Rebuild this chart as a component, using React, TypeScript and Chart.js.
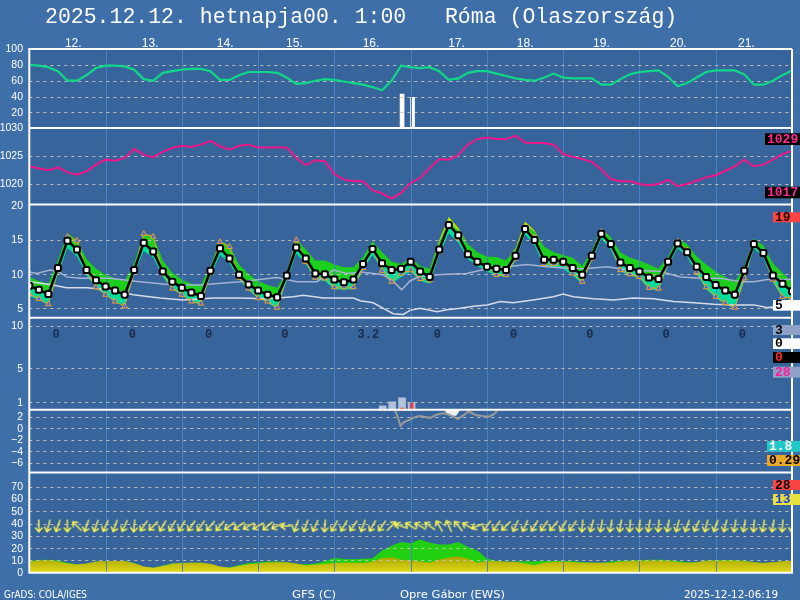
import React, { useEffect, useRef } from "react";
import { Chart, registerables } from "chart.js";

Chart.register(...registerables);

// ---------------- text ----------------
const TITLE = "2025.12.12. hetnapja00. 1:00   Róma (Olaszország)";
const DAY_LABELS = ["12.", "13.", "14.", "15.", "16.", "17.", "18.", "19.", "20.", "21."];
const DAY_LABEL_HOURS = [11.2, 35.4, 59.0, 80.8, 104.9, 131.8, 153.4, 177.4, 201.6, 223.0];
const DAY_LINE_HOURS = [24, 48, 72, 96, 120, 144, 168, 192, 216];
const NOON_HOURS = [12, 36, 60, 84, 108, 132, 156, 180, 204, 228];
const DAILY_PRECIP = [0, 0, 0, 0, 3.2, 0, 0, 0, 0, 0];
const FOOTER = ["GrADS: COLA/IGES", "GFS (C)", "Opre Gábor (EWS)", "2025-12-12-06:19"];

// tick labels per panel
const HUM_TICKS = [100, 80, 60, 40, 20];
const PRES_TICKS = [1030, 1025, 1020];
const TEMP_TICKS = [20, 15, 10, 5];
const PREC_TICKS = [10, 5, 1];
const P5_TICKS = [2, 0, -2, -4, -6];
const WIND_TICKS = [70, 60, 50, 40, 30, 20, 10, 0];

// side summary values
const PRES_EXTREMES = ["1029", "1017"];
const TEMP_EXTREMES = ["19", "5"];
const PREC_SUMMARY = ["3", "0", "0", "28"];
const P5_SUMMARY = ["1.8", "0.29"];
const WIND_SUMMARY = ["28", "13"];

// ---------------- series (3-hourly) ----------------
const HOURS = [0, 3, 6, 9, 12, 15, 18, 21, 24, 27, 30, 33, 36, 39, 42, 45, 48, 51, 54, 57, 60, 63, 66, 69, 72, 75, 78, 81, 84, 87, 90, 93, 96, 99, 102, 105, 108, 111, 114, 117, 120, 123, 126, 129, 132, 135, 138, 141, 144, 147, 150, 153, 156, 159, 162, 165, 168, 171, 174, 177, 180, 183, 186, 189, 192, 195, 198, 201, 204, 207, 210, 213, 216, 219, 222, 225, 228, 231, 234, 237, 240];

const HUMIDITY = [80, 79, 77, 72, 60, 60, 67, 76, 79, 79, 78, 74, 62, 60, 70, 72, 74, 75, 75, 72, 61, 61, 67, 71, 71, 71, 70, 64, 56, 57, 60, 62, 61, 59, 57, 55, 52, 48, 60, 79, 77, 76, 77, 72, 61, 63, 70, 72, 72, 69, 66, 63, 61, 60, 64, 69, 64, 63, 63, 63, 55, 55, 62, 68, 71, 72, 73, 65, 53, 57, 64, 71, 73, 73, 73, 68, 55, 55, 60, 67, 73];

const PRESSURE = [1023.1, 1022.7, 1022.4, 1022.9, 1022.0, 1021.6, 1022.2, 1023.4, 1024.3, 1024.1, 1024.6, 1026.2, 1025.2, 1024.7, 1025.7, 1026.4, 1026.8, 1026.6, 1027.0, 1027.7, 1026.7, 1026.1, 1026.8, 1027.0, 1026.5, 1026.5, 1026.5, 1026.5, 1024.6, 1023.3, 1024.2, 1024.0, 1021.7, 1020.7, 1020.4, 1020.4, 1018.8, 1018.2, 1017.3, 1018.3, 1020.1, 1021.0, 1022.8, 1024.4, 1024.3, 1025.1, 1027.0, 1028.0, 1028.3, 1028.0, 1028.0, 1028.6, 1027.4, 1027.3, 1027.3, 1027.0, 1025.3, 1024.8, 1024.4, 1023.9, 1022.5, 1020.8, 1020.4, 1020.4, 1019.9, 1019.7, 1019.9, 1020.7, 1019.5, 1019.9, 1020.5, 1021.1, 1021.5, 1022.3, 1023.1, 1024.3, 1023.1, 1023.4, 1024.3, 1025.3, 1025.9];

const TEMP_MAIN = [8.3, 7.7, 7.1, 10.9, 14.9, 13.6, 10.6, 9.1, 8.2, 7.6, 7.0, 10.6, 14.6, 13.3, 10.4, 8.9, 8.0, 7.3, 6.8, 10.5, 13.8, 12.3, 9.9, 8.5, 7.6, 7.0, 6.6, 9.8, 13.9, 12.3, 10.1, 10.0, 9.2, 8.8, 9.2, 11.5, 13.7, 11.6, 10.6, 10.8, 11.8, 10.4, 9.6, 13.6, 17.2, 15.7, 12.9, 11.8, 11.1, 10.8, 10.6, 12.7, 16.6, 15.0, 12.1, 12.1, 11.8, 10.9, 9.9, 12.7, 15.9, 14.4, 11.7, 10.9, 10.4, 9.5, 9.3, 11.8, 14.5, 13.2, 11.1, 9.6, 8.4, 7.6, 7.0, 10.5, 14.4, 13.1, 9.8, 8.6, 7.5];

const TEMP_SECOND = [7.1, 6.4, 5.6, 10.6, 15.5, 14.9, 10.4, 8.1, 7.0, 6.0, 5.3, 10.3, 15.9, 15.5, 10.1, 7.9, 7.0, 6.0, 5.7, 10.2, 14.7, 14.0, 9.5, 7.9, 6.5, 6.0, 5.1, 9.6, 15.0, 11.8, 9.5, 9.4, 8.1, 8.1, 8.1, 10.9, 13.7, 10.5, 8.9, 10.1, 10.6, 9.3, 9.1, 13.3, 17.2, 15.3, 12.8, 11.7, 11.0, 9.9, 9.9, 12.3, 16.8, 15.4, 11.5, 11.5, 11.5, 10.1, 8.9, 12.3, 16.2, 14.3, 10.6, 10.0, 9.6, 8.0, 7.9, 11.6, 14.8, 13.5, 10.3, 8.1, 6.7, 5.8, 5.1, 9.4, 14.5, 13.0, 9.2, 6.7, 6.5];

const TEMP_UPPER = [9.6, 9.0, 8.6, 12.0, 16.0, 15.0, 12.2, 10.8, 9.9, 9.4, 9.0, 11.6, 16.0, 15.6, 12.0, 10.2, 9.2, 8.6, 8.4, 11.2, 14.9, 14.2, 11.4, 10.0, 9.0, 8.4, 8.0, 10.4, 15.1, 13.6, 12.0, 12.0, 11.4, 11.0, 11.0, 12.5, 14.8, 13.2, 11.8, 11.5, 12.4, 11.2, 10.8, 14.6, 17.6, 16.4, 14.4, 13.2, 12.6, 12.5, 12.0, 13.6, 17.0, 16.2, 14.0, 13.2, 12.8, 12.4, 11.2, 13.4, 16.4, 15.4, 13.2, 12.4, 12.0, 11.4, 10.8, 12.6, 15.2, 14.4, 12.6, 11.4, 10.4, 9.6, 8.8, 11.2, 15.2, 14.2, 11.6, 10.2, 8.8];

const TEMP_TOP = [9.6, 9.0, 8.6, 12.0, 16.0, 15.0, 12.2, 10.8, 9.9, 9.4, 9.0, 11.6, 16.0, 15.6, 12.0, 10.2, 9.2, 8.6, 8.4, 11.2, 14.9, 14.2, 11.4, 10.0, 9.0, 8.4, 8.0, 10.4, 15.1, 13.6, 12.0, 12.0, 11.4, 11.0, 11.0, 12.5, 14.8, 13.2, 11.8, 11.5, 12.4, 11.2, 10.8, 15.0, 18.4, 16.8, 14.4, 13.2, 12.6, 12.5, 12.0, 13.8, 17.7, 16.4, 14.0, 13.2, 12.8, 12.4, 11.2, 13.4, 16.6, 15.4, 13.2, 12.4, 12.0, 11.4, 10.8, 12.6, 15.2, 14.4, 12.6, 11.4, 10.4, 9.6, 8.8, 11.2, 15.2, 14.2, 11.6, 10.2, 8.8];

const TEMP_LOWER = [6.8, 6.2, 5.5, 10.0, 13.8, 12.6, 9.8, 8.0, 7.0, 6.0, 5.4, 10.0, 13.4, 12.4, 9.6, 7.8, 7.0, 6.0, 5.5, 9.8, 12.8, 11.6, 9.2, 7.6, 6.5, 5.8, 4.9, 9.0, 13.0, 11.5, 9.2, 9.0, 7.8, 7.7, 7.8, 10.6, 12.8, 10.6, 8.6, 9.6, 10.4, 9.0, 8.6, 12.8, 16.0, 14.6, 12.2, 11.2, 10.4, 9.8, 9.6, 12.0, 15.8, 14.2, 11.2, 11.0, 10.8, 9.8, 8.6, 12.0, 15.2, 13.6, 10.4, 9.8, 9.4, 7.8, 7.6, 11.2, 13.8, 12.6, 10.0, 7.8, 6.5, 5.6, 5.0, 9.0, 13.8, 12.4, 8.8, 6.6, 6.3];

const WIND_GUST = [9.7, 10.3, 10.6, 9.9, 8.2, 6.8, 7.2, 9.2, 9.3, 9.5, 9.6, 7.8, 4.6, 3.9, 5.9, 7.5, 8.0, 8.1, 8.1, 6.9, 4.8, 4.2, 6.3, 7.8, 8.5, 9.1, 9.2, 8.8, 7.2, 6.8, 7.5, 9.4, 12.2, 11.1, 11.0, 11.4, 11.8, 18.0, 22.0, 25.0, 24.0, 27.0, 24.3, 23.0, 23.0, 25.0, 21.0, 18.0, 11.6, 9.5, 9.2, 9.2, 9.3, 9.4, 9.5, 9.6, 9.7, 9.3, 8.8, 8.3, 8.1, 9.2, 9.8, 10.0, 10.3, 10.6, 10.6, 10.3, 9.5, 8.7, 8.5, 9.9, 10.3, 10.3, 10.3, 9.9, 8.8, 7.8, 8.5, 9.3, 9.7];

const WIND_MEAN = [9.2, 9.9, 10.1, 9.1, 7.5, 6.6, 7.4, 9.1, 9.4, 9.6, 9.5, 7.7, 5.0, 4.1, 5.4, 7.3, 7.8, 8.0, 8.1, 7.2, 5.1, 4.0, 5.5, 6.9, 7.5, 8.4, 8.6, 8.6, 7.5, 5.8, 6.6, 7.0, 7.9, 8.1, 8.1, 7.8, 9.0, 12.0, 12.6, 10.5, 10.0, 9.2, 8.2, 10.8, 12.4, 13.2, 11.4, 8.2, 9.6, 9.3, 9.0, 8.7, 7.5, 6.0, 8.1, 8.7, 9.2, 8.6, 8.1, 8.1, 8.1, 8.1, 9.0, 9.5, 9.7, 9.7, 9.7, 9.7, 8.7, 8.2, 8.6, 9.7, 9.7, 9.7, 9.7, 9.3, 8.6, 7.8, 8.5, 9.3, 9.7];

// wind arrows: hours 3..240, direction the air moves toward (degrees from north)
const ARROW_HOURS = [3, 6, 9, 12, 15, 18, 21, 24, 27, 30, 33, 36, 39, 42, 45, 48, 51, 54, 57, 60, 63, 66, 69, 72, 75, 78, 81, 84, 87, 90, 93, 96, 99, 102, 105, 108, 111, 114, 117, 120, 123, 126, 129, 132, 135, 138, 141, 144, 147, 150, 153, 156, 159, 162, 165, 168, 171, 174, 177, 180, 183, 186, 189, 192, 195, 198, 201, 204, 207, 210, 213, 216, 219, 222, 225, 228, 231, 234, 237, 240];
const ARROW_DIRS = [180, 195, 200, 180, 315, 200, 200, 205, 200, 205, 185, 215, 225, 210, 210, 210, 215, 215, 220, 220, 235, 235, 240, 240, 230, 245, 265, 200, 200, 205, 185, 210, 210, 215, 200, 210, 215, 45, 290, 300, 300, 305, 330, 335, 320, 300, 250, 215, 215, 225, 205, 205, 210, 215, 220, 210, 215, 185, 195, 190, 190, 190, 185, 185, 190, 185, 190, 195, 200, 205, 195, 200, 195, 190, 190, 185, 190, 190, 185, 185];

// irregular series
const GRAY_A_HOURS = [0, 2.3, 6.5, 9.1, 11.7, 15.9, 25.4, 34.8, 45.3, 53.7, 66.3, 77.9, 84.2, 90.5, 95.7, 99.9, 104.1, 108.3, 111.4, 114.6, 117.2, 119.8, 122, 125.1, 131.4, 137.7, 144, 150.3, 156.6, 162.9, 168.1, 174.4, 181.8, 188.1, 194.4, 198.6, 204.9, 211.2, 217.5, 223.8, 228, 232.2, 240];
const GRAY_A = [10.3, 10.1, 10.6, 10.4, 9.6, 9.4, 9.4, 8.9, 8.4, 8.4, 8.9, 9.5, 8.9, 8.9, 10.6, 10.1, 10.3, 10.1, 9.9, 8.9, 7.7, 9.0, 9.5, 9.8, 10.0, 10.1, 10.8, 11.1, 11.4, 11.1, 10.9, 10.8, 11.1, 10.6, 10.5, 10.4, 9.6, 9.4, 9.4, 8.9, 8.9, 9.2, 9.2];

const WHITE_B_HOURS = [0, 6.5, 11.7, 18, 25.4, 32.7, 41.1, 48.4, 57.9, 66.3, 74.7, 83.1, 86.2, 92.5, 102, 104.1, 108.2, 111.4, 114.5, 117.7, 119.8, 123, 128.3, 131.4, 135.6, 139.7, 144.1, 148.2, 152.2, 158.5, 164.9, 168, 171.2, 177.5, 183.8, 190.1, 196.4, 202.8, 209.1, 215.4, 221.7, 228, 232.4, 240];
const WHITE_B = [8.9, 8.5, 8.0, 8.0, 7.7, 7.0, 6.5, 6.2, 6.5, 6.5, 6.4, 6.7, 6.9, 6.5, 6.5, 6.1, 5.8, 5.0, 4.2, 4.1, 4.7, 5.0, 4.5, 4.8, 5.0, 5.3, 5.5, 6.0, 5.8, 6.2, 6.7, 7.1, 6.7, 6.4, 6.2, 6.5, 6.4, 6.0, 5.8, 5.6, 5.5, 5.5, 5.1, 5.5];

const P5_HOURS = [115.0, 115.9, 116.8, 117.8, 119.4, 120.4, 122.5, 124.1, 126.2, 128.3, 130.4, 132.0, 133.5, 134.8, 136.2, 138.3, 140.4, 143.0, 144.6, 146.1, 147.2];
const P5_VALUES = [3.2, 2.0, 0.4, 1.0, 1.4, 1.7, 2.1, 2.0, 1.8, 2.4, 2.6, 2.4, 2.0, 1.6, 2.1, 2.9, 2.3, 2.1, 2.0, 2.4, 3.0];
const P5_WHITE_HOURS = [130.6, 131.6, 133.0, 134.4, 135.6];
const P5_WHITE = [3.2, 2.3, 2.1, 2.2, 3.2];

const HUM_BAR_HOURS = [117.3, 120.6];
const HUM_BARS = [43, 39];
const PREC_HOURS = [111.2, 114.2, 117.3, 120.3];
const PREC_TOTAL = [0.55, 1.03, 1.5, 0.95];
const PREC_RED = [0, 0, 0.3, 0.9];

// ---------------- layout (pixels) ----------------
const AREA = { left: 29.3, top: 49, right: 792, bottom: 572.7 };
const EDGES = [128, 204.4, 317.7, 409.7, 472.5, 572.7];
// calibration: value v1 at pixel p1, value v2 at pixel p2
const CAL: Record<string, [number, number, number, number]> = {
  yHum: [100, 49, 0, 128.3],
  yPres: [1030, 128, 1020, 183.5],
  yTemp: [15, 240, 5, 308.3],
  yPrec: [10, 326, 0, 410.6],
  yP5: [2, 416.7, -6, 462.7],
  yWind: [70, 486.7, 0, 572.7],
};
function axisRange(id: string) {
  const [v1, p1, v2, p2] = CAL[id];
  const ppu = (p2 - p1) / (v1 - v2);
  return { min: v2 - (AREA.bottom - p2) / ppu, max: v1 + (p1 - AREA.top) / ppu };
}

const xy = (hs: number[], vs: number[]) => hs.map((h, i) => ({ x: h, y: vs[i] }));

const GRID_SPEC: [string, number[]][] = [
  ["yHum", [80, 60, 40, 20]],
  ["yPres", [1025, 1020]],
  ["yTemp", [15, 10, 5]],
  ["yPrec", [10, 5, 1]],
  ["yP5", [2, 0, -2, -4, -6]],
  ["yWind", [70, 60, 50, 40, 30, 20, 10]],
];
const TICK_SPEC: [string, number[]][] = [
  ["yHum", HUM_TICKS],
  ["yPres", PRES_TICKS],
  ["yTemp", TEMP_TICKS],
  ["yPrec", PREC_TICKS],
  ["yP5", P5_TICKS],
  ["yWind", WIND_TICKS],
];

function makeArrow(): HTMLCanvasElement {
  const c = document.createElement("canvas");
  c.width = 16;
  c.height = 16;
  const g = c.getContext("2d")!;
  g.strokeStyle = "#f8f455";
  g.lineWidth = 1.4;
  g.lineCap = "round";
  g.beginPath();
  g.moveTo(8, 14);
  g.lineTo(8, 2);
  g.moveTo(4.8, 6);
  g.lineTo(8, 2);
  g.lineTo(11.2, 6);
  g.stroke();
  return c;
}

function fitText(ctx: CanvasRenderingContext2D, text: string, x: number, y: number, w: number) {
  const m = ctx.measureText(text).width;
  ctx.save();
  ctx.translate(x, y);
  ctx.scale(w / m, 1);
  ctx.fillText(text, 0, 0);
  ctx.restore();
}

function sideBox(ctx: CanvasRenderingContext2D, x: number, y1: number, y2: number, text: string, bg: string, fg: string) {
  ctx.fillStyle = bg;
  ctx.fillRect(x, y1, 800 - x, y2 - y1);
  ctx.fillStyle = fg;
  ctx.font = 'bold 13px "Liberation Mono"';
  ctx.textAlign = "left";
  ctx.textBaseline = "middle";
  ctx.fillText(text, x + 2, (y1 + y2) / 2 + 0.5);
}

const decor = {
  id: "decor",
  beforeDraw(chart: any) {
    const { ctx, chartArea: a } = chart;
    ctx.save();
    ctx.fillStyle = "#3f6fa9";
    ctx.fillRect(0, 0, 800, 600);
    ctx.fillStyle = "#37649a";
    ctx.fillRect(a.left, a.top, a.right - a.left, a.bottom - a.top);
    ctx.restore();
  },
  beforeDatasetDraw(chart: any, args: any) {
    if (args.index !== 7) return;
    const { ctx, chartArea: a, scales } = chart;
    ctx.save();
    ctx.lineWidth = 1;
    ctx.strokeStyle = "#4b80c2";
    for (const h of DAY_LINE_HOURS) {
      const x = Math.round(scales.x.getPixelForValue(h)) + 0.5;
      ctx.beginPath();
      ctx.moveTo(x, a.top);
      ctx.lineTo(x, a.bottom);
      ctx.stroke();
    }
    ctx.strokeStyle = "rgba(205,200,185,0.9)";
    ctx.setLineDash([3, 4]);
    for (const [id, vals] of GRID_SPEC) {
      for (const v of vals) {
        const y = Math.round(scales[id].getPixelForValue(v)) + 0.5;
        ctx.beginPath();
        ctx.moveTo(a.left, y);
        ctx.lineTo(a.right, y);
        ctx.stroke();
      }
    }
    ctx.restore();
  },
  afterDatasetsDraw(chart: any) {
    const { ctx, chartArea: a, scales } = chart;
    ctx.save();
    // panel frames
    ctx.strokeStyle = "#ffffff";
    ctx.lineWidth = 2;
    ctx.beginPath();
    ctx.moveTo(a.left - 1, a.top);
    ctx.lineTo(a.right, a.top);
    for (const y of EDGES) {
      ctx.moveTo(a.left - 1, y);
      ctx.lineTo(a.right + 1, y);
    }
    ctx.moveTo(a.left, a.top);
    ctx.lineTo(a.left, a.bottom + 1);
    ctx.moveTo(a.right, a.top);
    ctx.lineTo(a.right, a.bottom + 1);
    ctx.stroke();

    // y tick labels
    ctx.fillStyle = "#ffffff";
    ctx.font = '10.5px "Liberation Sans"';
    ctx.textAlign = "right";
    ctx.textBaseline = "middle";
    for (const [id, vals] of TICK_SPEC) {
      for (const v of vals) {
        const label = v < 0 ? "\u2212" + Math.abs(v) : String(v);
        ctx.fillText(label, 23, scales[id].getPixelForValue(v) + 0.5);
      }
    }

    // title
    ctx.textAlign = "left";
    ctx.textBaseline = "alphabetic";
    ctx.font = '21.5px "Liberation Mono"';
    ctx.fillText(TITLE, 45, 23);

    // day labels
    ctx.font = '12px "Liberation Sans"';
    DAY_LABELS.forEach((t, i) => {
      ctx.fillText(t, scales.x.getPixelForValue(DAY_LABEL_HOURS[i]), 46.5);
    });

    // daily precipitation totals
    ctx.fillStyle = "#1a2a4c";
    ctx.font = 'bold 12px "Liberation Mono"';
    DAILY_PRECIP.forEach((v, i) => {
      ctx.fillText(String(v), scales.x.getPixelForValue(NOON_HOURS[i]) - 15, 338);
    });

    // footer
    ctx.fillStyle = "#ffffff";
    ctx.font = '11px "DejaVu Sans"';
    fitText(ctx, FOOTER[0], 4, 598, 83);
    fitText(ctx, FOOTER[1], 292, 598, 44);
    fitText(ctx, FOOTER[2], 400, 598, 105);
    fitText(ctx, FOOTER[3], 684, 598, 94);

    // side summary boxes
    sideBox(ctx, 765, 133.3, 145, PRES_EXTREMES[0], "#000000", "#ff2a92");
    sideBox(ctx, 765, 186.7, 198.3, PRES_EXTREMES[1], "#000000", "#ff2a92");
    sideBox(ctx, 773, 212.3, 222.3, TEMP_EXTREMES[0], "#ff4444", "#2a0000");
    sideBox(ctx, 773, 300, 310.7, TEMP_EXTREMES[1], "#ffffff", "#000000");
    sideBox(ctx, 773, 325, 335, PREC_SUMMARY[0], "#8ea2c8", "#000000");
    sideBox(ctx, 773, 338.3, 349, PREC_SUMMARY[1], "#ffffff", "#000000");
    sideBox(ctx, 773, 352, 363, PREC_SUMMARY[2], "#000000", "#ff3030");
    sideBox(ctx, 773, 366.7, 377.7, PREC_SUMMARY[3], "#8ea2c8", "#ff1a9a");
    sideBox(ctx, 767, 441, 451.7, P5_SUMMARY[0], "#22c8c8", "#ffffff");
    sideBox(ctx, 767, 455, 466, P5_SUMMARY[1], "#e8a828", "#000000");
    sideBox(ctx, 773, 480, 490, WIND_SUMMARY[0], "#ff4444", "#000000");
    sideBox(ctx, 773, 494, 505, WIND_SUMMARY[1], "#e8e040", "#2040d0");
    ctx.restore();
  },
};

export default function App() {
  const ref = useRef<HTMLCanvasElement>(null);
  useEffect(() => {
    const canvas = ref.current!;
    const arrow = makeArrow();
    const yAxes: any = {};
    for (const id of Object.keys(CAL)) {
      const r = axisRange(id);
      yAxes[id] = { type: "linear", display: false, min: r.min, max: r.max, offset: false, beginAtZero: false };
    }
    const windGradient = (c: any) => {
      const ch = c.chart;
      const s = ch.scales && ch.scales.yWind;
      if (!ch.chartArea || !s) return "#c8c000";
      const g = ch.ctx.createLinearGradient(0, s.getPixelForValue(13), 0, s.getPixelForValue(0));
      g.addColorStop(0, "#a8a400");
      g.addColorStop(1, "#e2da1a");
      return g;
    };
    const chart = new Chart(canvas, {
      type: "line",
      data: {
        datasets: [
          { // 0 wind arrows
            data: ARROW_HOURS.map((h) => ({ x: h, y: 38 })),
            yAxisID: "yWind", showLine: false,
            pointStyle: arrow as any, pointRadius: 6, pointRotation: ARROW_DIRS as any,
          },
          { // 1 main temperature
            data: xy(HOURS, TEMP_MAIN), yAxisID: "yTemp",
            borderColor: "#000000", borderWidth: 2.5,
            pointStyle: "rectRounded", pointRadius: 3.5, pointBorderWidth: 2,
            pointBackgroundColor: "#ffffff", pointBorderColor: "#000000",
          },
          { // 2 second model
            data: xy(HOURS, TEMP_SECOND), yAxisID: "yTemp",
            borderColor: "#e8a030", borderWidth: 1,
            pointStyle: "triangle", pointRadius: 3.2, pointBorderWidth: 1,
            pointBackgroundColor: "#4466e8", pointBorderColor: "#f0a020",
          },
          { // 3 gray line
            data: xy(GRAY_A_HOURS, GRAY_A), yAxisID: "yTemp",
            borderColor: "#a4b2d4", borderWidth: 1.5, pointRadius: 0,
          },
          { // 4 white line
            data: xy(WHITE_B_HOURS, WHITE_B), yAxisID: "yTemp",
            borderColor: "#d8dcea", borderWidth: 1.5, pointRadius: 0,
          },
          { // 5 pressure
            data: xy(HOURS, PRESSURE), yAxisID: "yPres",
            borderColor: "#f0168c", borderWidth: 2, pointRadius: 0,
          },
          { // 6 humidity
            data: xy(HOURS, HUMIDITY), yAxisID: "yHum",
            borderColor: "#10d888", borderWidth: 2.2, pointRadius: 0,
          },
          { // 7 panel 5 line
            data: xy(P5_HOURS, P5_VALUES), yAxisID: "yP5",
            borderColor: "#9a9a9a", borderWidth: 2, pointRadius: 0,
          },
          { // 8 red precipitation
            type: "bar", data: xy(PREC_HOURS, PREC_RED), yAxisID: "yPrec",
            backgroundColor: "#ff3030", barThickness: 3, grouped: false,
          } as any,
          { // 9 precipitation
            type: "bar", data: xy(PREC_HOURS, PREC_TOTAL), yAxisID: "yPrec",
            backgroundColor: "rgba(190,204,230,0.9)", barThickness: 7, grouped: false,
          } as any,
          { // 10 humidity bars
            type: "bar", data: xy(HUM_BAR_HOURS, HUM_BARS), yAxisID: "yHum",
            backgroundColor: "#ffffff", barThickness: 4, grouped: false,
          } as any,
          { // 11 panel 5 white area
            data: xy(P5_WHITE_HOURS, P5_WHITE), yAxisID: "yP5",
            borderWidth: 0, pointRadius: 0, fill: { value: 3.22 }, backgroundColor: "#f2f2f2",
          } as any,
          { // 12 lower band
            data: xy(HOURS, TEMP_LOWER), yAxisID: "yTemp",
            borderWidth: 0, pointRadius: 0, fill: 1, backgroundColor: "#00de9c",
          },
          { // 13 upper band
            data: xy(HOURS, TEMP_UPPER), yAxisID: "yTemp",
            borderWidth: 0, pointRadius: 0, fill: 1, backgroundColor: "#1ccf1c",
          },
          { // 14 top tip
            data: xy(HOURS, TEMP_TOP), yAxisID: "yTemp",
            borderWidth: 0, pointRadius: 0, fill: 13, backgroundColor: "#b4e000",
          },
          { // 15 mean wind
            data: xy(HOURS, WIND_MEAN), yAxisID: "yWind",
            borderWidth: 0, pointRadius: 0, fill: "origin", backgroundColor: windGradient,
          } as any,
          { // 16 gusts
            data: xy(HOURS, WIND_GUST), yAxisID: "yWind",
            borderWidth: 0, pointRadius: 0, fill: "origin", backgroundColor: "#22d012",
          },
        ],
      },
      options: {
        responsive: false,
        animation: false,
        events: [],
        layout: {
          padding: { left: AREA.left, top: AREA.top, right: 800 - AREA.right, bottom: 600 - AREA.bottom },
        },
        elements: { line: { tension: 0 } },
        plugins: { legend: { display: false }, tooltip: { enabled: false } },
        scales: {
          x: { type: "linear", min: 0, max: 240, display: false, offset: false, grid: { offset: false } },
          ...yAxes,
        },
      },
      plugins: [decor],
    } as any);
    return () => chart.destroy();
  }, []);
  return (
    <div style={{ position: "fixed", left: 0, top: 0, width: 800, height: 600 }}>
      <canvas ref={ref} width={800} height={600} style={{ display: "block" }} />
    </div>
  );
}
